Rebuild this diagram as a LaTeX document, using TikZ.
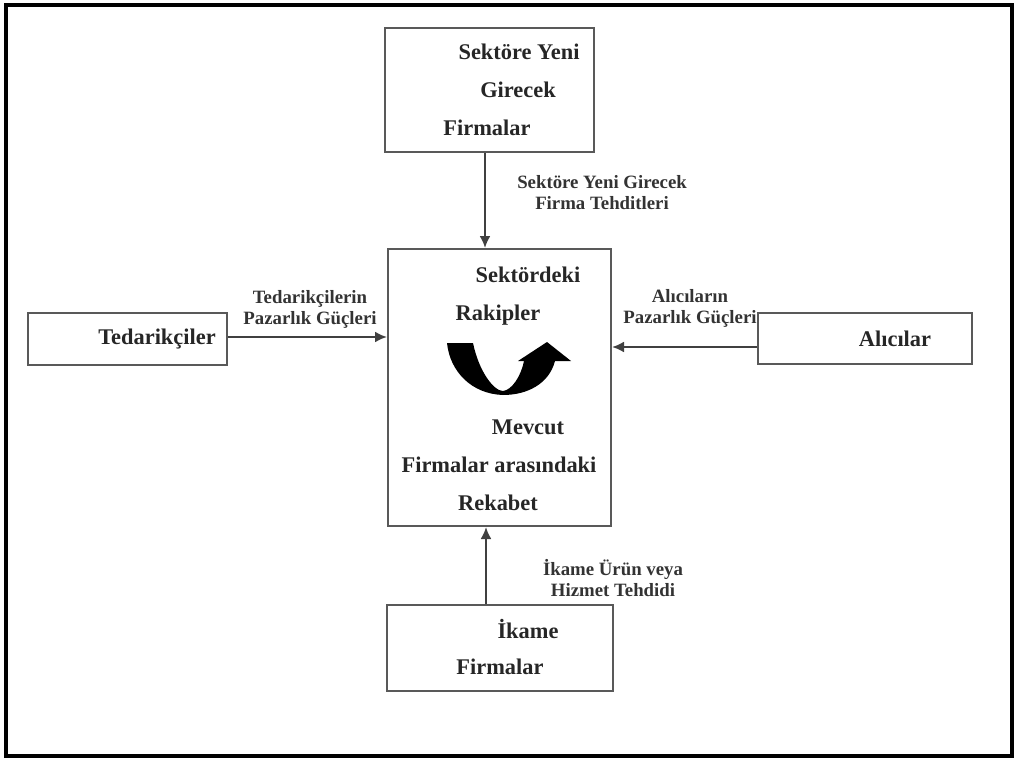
\documentclass[tikz,border=0pt]{standalone}
\usepackage{fontspec}
\setmainfont{Liberation Serif}
\usetikzlibrary{arrows.meta}
\begin{document}
\begin{tikzpicture}[x=0.5pt,y=-0.5pt,
  box/.style={draw=black!65, line width=1pt, inner sep=0pt},
  conn/.style={draw=black!75, line width=1.1pt, -{Latex[length=6pt,width=5.5pt]}},
  boxtxt/.style={font=\fontsize{11.2}{13}\selectfont\bfseries, inner sep=0pt, text=black!85},
  lbl/.style={font=\fontsize{9.4}{10.5}\selectfont\bfseries, align=center, inner sep=0pt, text=black!80}]
\useasboundingbox (0,0) rectangle (1015,759);
% outer frame
\draw[line width=2pt, black] (6,5) rectangle (1012,756);
% boxes
\node[box, minimum width=104.5pt, minimum height=62pt] (top) at (489.5,90) {};
\node[box, minimum width=111.5pt, minimum height=138.5pt] (mid) at (499.5,387.5) {};
\node[box, minimum width=99.5pt, minimum height=26pt] (left) at (127.5,339) {};
\node[box, minimum width=107pt, minimum height=25.5pt] (right) at (865,338.5) {};
\node[box, minimum width=113pt, minimum height=43pt] (bot) at (500,648) {};
% box texts
\node[boxtxt] (t1) at (519,52) {Sektöre Yeni};
\node[boxtxt] (t2) at (518,90) {Girecek};
\node[boxtxt] (t3) at (487,128) {Firmalar};
\node[boxtxt] (m1) at (528,275) {Sektördeki};
\node[boxtxt] (m2) at (498,315) {Rakipler};
\node[boxtxt] (m3) at (528,427) {Mevcut};
\node[boxtxt] (m4) at (499,465) {Firmalar arasındaki};
\node[boxtxt] (m5) at (498,503) {Rekabet};
\node[boxtxt] (l1) at (157,339) {Tedarikçiler};
\node[boxtxt] (r1) at (895,339) {Alıcılar};
\node[boxtxt] (b1) at (528,629) {İkame};
\node[boxtxt] (b2) at (500,667) {Firmalar};
% connectors
\draw[conn] ([xshift=-2.25pt]top.south) -- ([xshift=-2.25pt]top.south |- mid.north);
\draw[conn] ([yshift=1pt]left.east) -- ([yshift=1pt]left.east -| mid.west);
\draw[conn] ([yshift=-4.25pt]right.west) -- ([yshift=-4.25pt]right.west -| mid.east);
\draw[conn] ([xshift=-7pt]bot.north) -- ([xshift=-7pt]bot.north |- mid.south);
% connector labels
\node[lbl] (lt) at (602,193) {Sektöre Yeni Girecek\\Firma Tehditleri};
\node[lbl] (ll) at (310,309) {Tedarikçilerin\\Pazarlık Güçleri};
\node[lbl] (lr) at (690,308) {Alıcıların\\Pazarlık Güçleri};
\node[lbl] (lb) at (613,578) {İkame Ürün veya\\Hizmet Tehdidi};
% curved arrow
\fill[black] (447,343) -- (473,343)
  .. controls (479,372) and (494,391) .. (503,391)
  .. controls (512,390) and (521,376) .. (524,361)
  -- (518,361) -- (547,342) -- (571,361) -- (555,361)
  .. controls (549,384) and (527,395) .. (503,395)
  .. controls (472,394) and (450,372) .. (447,343) -- cycle;
\end{tikzpicture}
\end{document}
